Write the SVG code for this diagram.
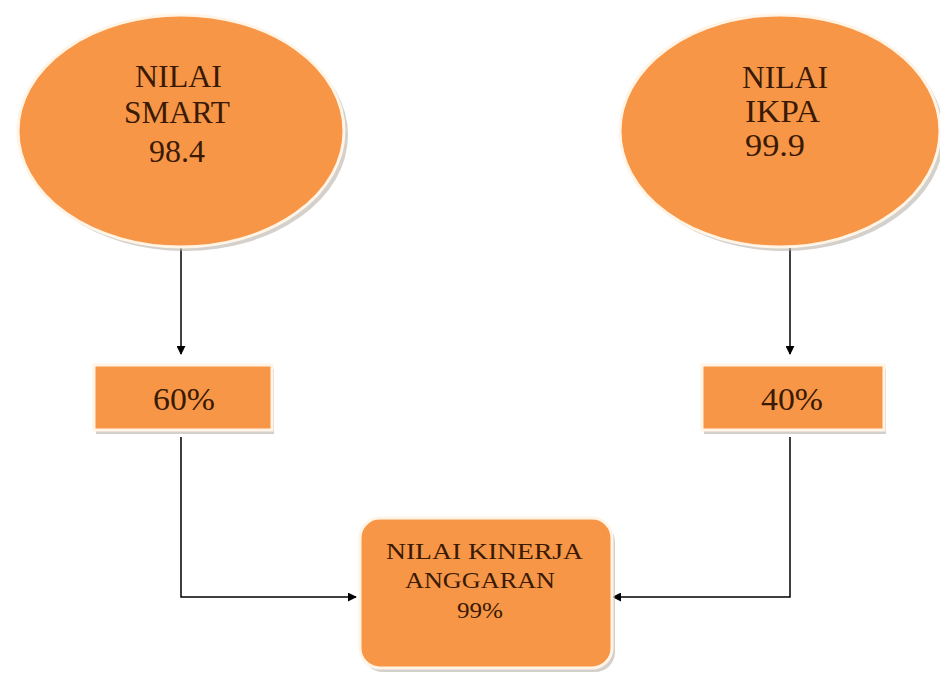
<svg xmlns="http://www.w3.org/2000/svg" width="940" height="674" viewBox="0 0 940 674">
<style>
.shape{fill:#f79646;stroke:#fff4e6;stroke-width:3}
.shadow{fill:#b8b0a8;opacity:0.6}
.t{font-family:"Liberation Serif",serif;fill:#3a1a04}
.big{font-size:32px}
.mid{font-size:31px}
.sm{font-size:24px}
.conn{fill:none;stroke:#000;stroke-width:1.5}
</style>
<defs>
<marker id="ah" viewBox="0 0 10 10" refX="9" refY="5" markerWidth="9" markerHeight="9" markerUnits="userSpaceOnUse" orient="auto">
<path d="M0,0 L10,5 L0,10 z" fill="#000"/>
</marker>
</defs>
<rect width="940" height="674" fill="#fff"/>
<g id="connectors">
<line class="conn" x1="181" y1="248" x2="181" y2="354" marker-end="url(#ah)"/>
<line class="conn" x1="790" y1="248" x2="790" y2="354" marker-end="url(#ah)"/>
<polyline class="conn" points="181,437 181,597 356,597" marker-end="url(#ah)"/>
<polyline class="conn" points="790,437 790,597 613,597" marker-end="url(#ah)"/>
</g>
<g id="smart">
<ellipse class="shadow" cx="185" cy="135" rx="163" ry="116"/>
<ellipse class="shape" cx="181" cy="131" rx="163" ry="116"/>
<text class="t big" x="135" y="87" textLength="87" lengthAdjust="spacingAndGlyphs">NILAI</text>
<text class="t big" x="124" y="123" textLength="106" lengthAdjust="spacingAndGlyphs">SMART</text>
<text class="t big" x="149" y="162" textLength="56" lengthAdjust="spacingAndGlyphs">98.4</text>
</g>
<g id="ikpa">
<ellipse class="shadow" cx="784" cy="135" rx="160" ry="116"/>
<ellipse class="shape" cx="780" cy="131" rx="160" ry="116"/>
<text class="t big" x="742" y="88" textLength="86" lengthAdjust="spacingAndGlyphs">NILAI</text>
<text class="t big" x="745" y="122" textLength="75" lengthAdjust="spacingAndGlyphs">IKPA</text>
<text class="t big" x="745" y="156" textLength="60" lengthAdjust="spacingAndGlyphs">99.9</text>
</g>
<g id="p60">
<rect class="shadow" x="96" y="369" width="178" height="65"/>
<rect class="shape" x="94" y="365" width="178" height="65"/>
<text class="t mid" x="153" y="410" textLength="62" lengthAdjust="spacingAndGlyphs">60%</text>
</g>
<g id="p40">
<rect class="shadow" x="704" y="369" width="182" height="65"/>
<rect class="shape" x="702" y="365" width="182" height="65"/>
<text class="t mid" x="761" y="410" textLength="62" lengthAdjust="spacingAndGlyphs">40%</text>
</g>
<g id="kinerja">
<rect class="shadow" x="363" y="522" width="252" height="150" rx="20"/>
<rect class="shape" x="360" y="518" width="252" height="150" rx="20"/>
<text class="t sm" x="386" y="559" textLength="197" lengthAdjust="spacingAndGlyphs">NILAI KINERJA</text>
<text class="t sm" x="405" y="588" textLength="150" lengthAdjust="spacingAndGlyphs">ANGGARAN</text>
<text class="t sm" x="457" y="618" textLength="46" lengthAdjust="spacingAndGlyphs">99%</text>
</g>
</svg>
